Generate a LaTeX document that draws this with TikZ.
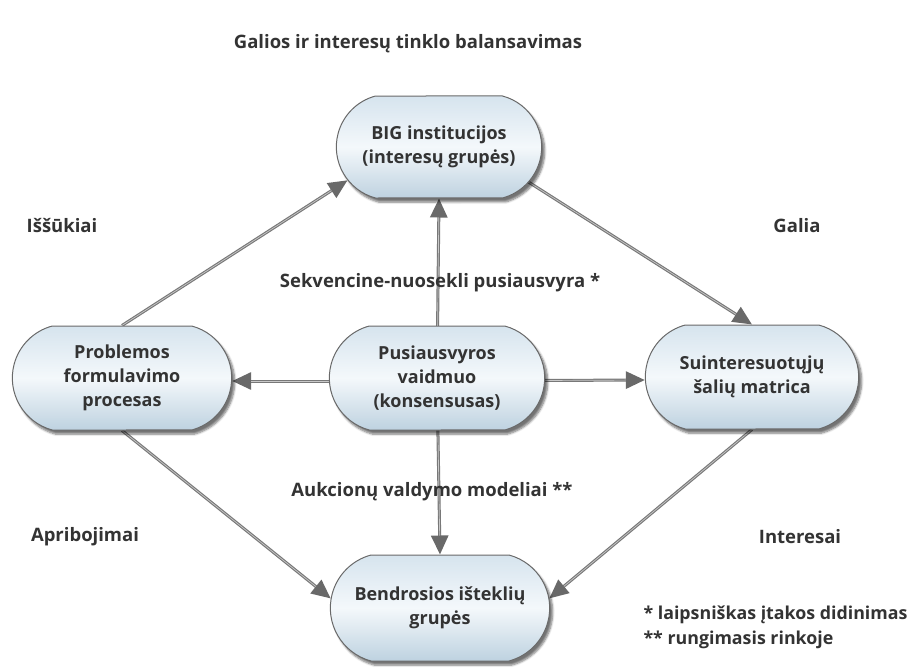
\documentclass[tikz,border=0pt]{standalone}
\usepackage{fontspec}
\setmainfont{Open Sans}
\usetikzlibrary{arrows.meta,shadows.blur,shapes.misc}
\definecolor{txt}{RGB}{51,51,51}
\definecolor{rim}{RGB}{105,105,105}
\definecolor{boxtop}{RGB}{214,228,238}
\definecolor{boxmid}{RGB}{244,248,251}
\definecolor{boxbot}{RGB}{190,210,224}
\definecolor{linkdark}{RGB}{120,120,120}
\definecolor{linklight}{RGB}{200,200,200}
\definecolor{tipfill}{RGB}{105,105,105}
\pgfdeclarelayer{back}
\pgfsetlayers{back,main}
\tikzset{
  bubble/.style={rounded rectangle, rounded rectangle arc length=150,
    draw=rim, line width=1pt,
    top color=boxtop, bottom color=boxbot, middle color=boxmid,
    align=center, font=\bfseries\fontsize{18}{24}\selectfont, text=txt,
    blur shadow={shadow xshift=3pt, shadow yshift=-4pt, shadow blur steps=6, shadow opacity=55}},
  link/.style={draw=linkdark, line width=3pt,
    -{Triangle[length=19pt,width=17pt,fill=tipfill,color=tipfill]},
    postaction={draw=linklight, line width=0.7pt, -, shorten >=19pt}},
  tag/.style={text=txt, font=\bfseries\fontsize{18.5}{22}\selectfont},
  note/.style={text=txt, font=\bfseries\fontsize{17.8}{22}\selectfont, anchor=west}
}
\begin{document}
\begin{tikzpicture}[x=1pt,y=-1pt]
\useasboundingbox (0,0) rectangle (920,671);

\node[tag] (title) at (408,44) {Galios ir interesų tinklo balansavimas};

% the five bubbles
\node[bubble, minimum width=212pt, minimum height=102pt] (big)  at (439,147) {BIG institucijos\\(interesų grupės)};
\node[bubble, minimum width=226pt, minimum height=104pt] (prob) at (122,378) {Problemos\\formulavimo\\procesas};
\node[bubble, minimum width=222pt, minimum height=104pt] (pus)  at (437,378) {Pusiausvyros\\vaidmuo\\(konsensusas)};
\node[bubble, minimum width=220pt, minimum height=104pt] (suin) at (752,377) {Suinteresuotųjų\\šalių matrica};
\node[bubble, minimum width=226pt, minimum height=106pt] (bend) at (440,608) {Bendrosios išteklių\\grupės};

% side labels
\node[tag] (issukiai) at (62,226) {Iššūkiai};
\node[tag] (galia) at (797,226) {Galia};
\node[tag] (sekv) at (440,283) {Sekvencine-nuosekli pusiausvyra *};
\node[tag] (aukc) at (432,492) {Aukcionų valdymo modeliai **};
\node[tag] (aprib) at (85,537) {Apribojimai};
\node[tag] (inter) at (800,537) {Interesai};
\node[note] (note1) at (640,615) {* laipsniškas įtakos didinimas};
\node[note] (note2) at (640,640) {** rungimasis rinkoje};

% connectors, kept behind the bubbles
\begin{pgfonlayer}{back}
  \draw[link] (prob.north) -- (big.200);
  \draw[link] ([shift={(-20,31)}]big.east) -- (suin.north);
  \draw[link] ([shift={(0,3)}]pus.center) -- ([shift={(0,3)}]prob.east);
  \draw[link] ([shift={(0,3)}]pus.center) -- ([shift={(0,3)}]suin.west);
  \draw[link] (pus.center) -- (big.south);
  \draw[link] (pus.center) -- (bend.north);
  \draw[link] (prob.south) -- (bend.175);
  \draw[link] (suin.south) -- (bend.5);
\end{pgfonlayer}
\end{tikzpicture}
\end{document}
